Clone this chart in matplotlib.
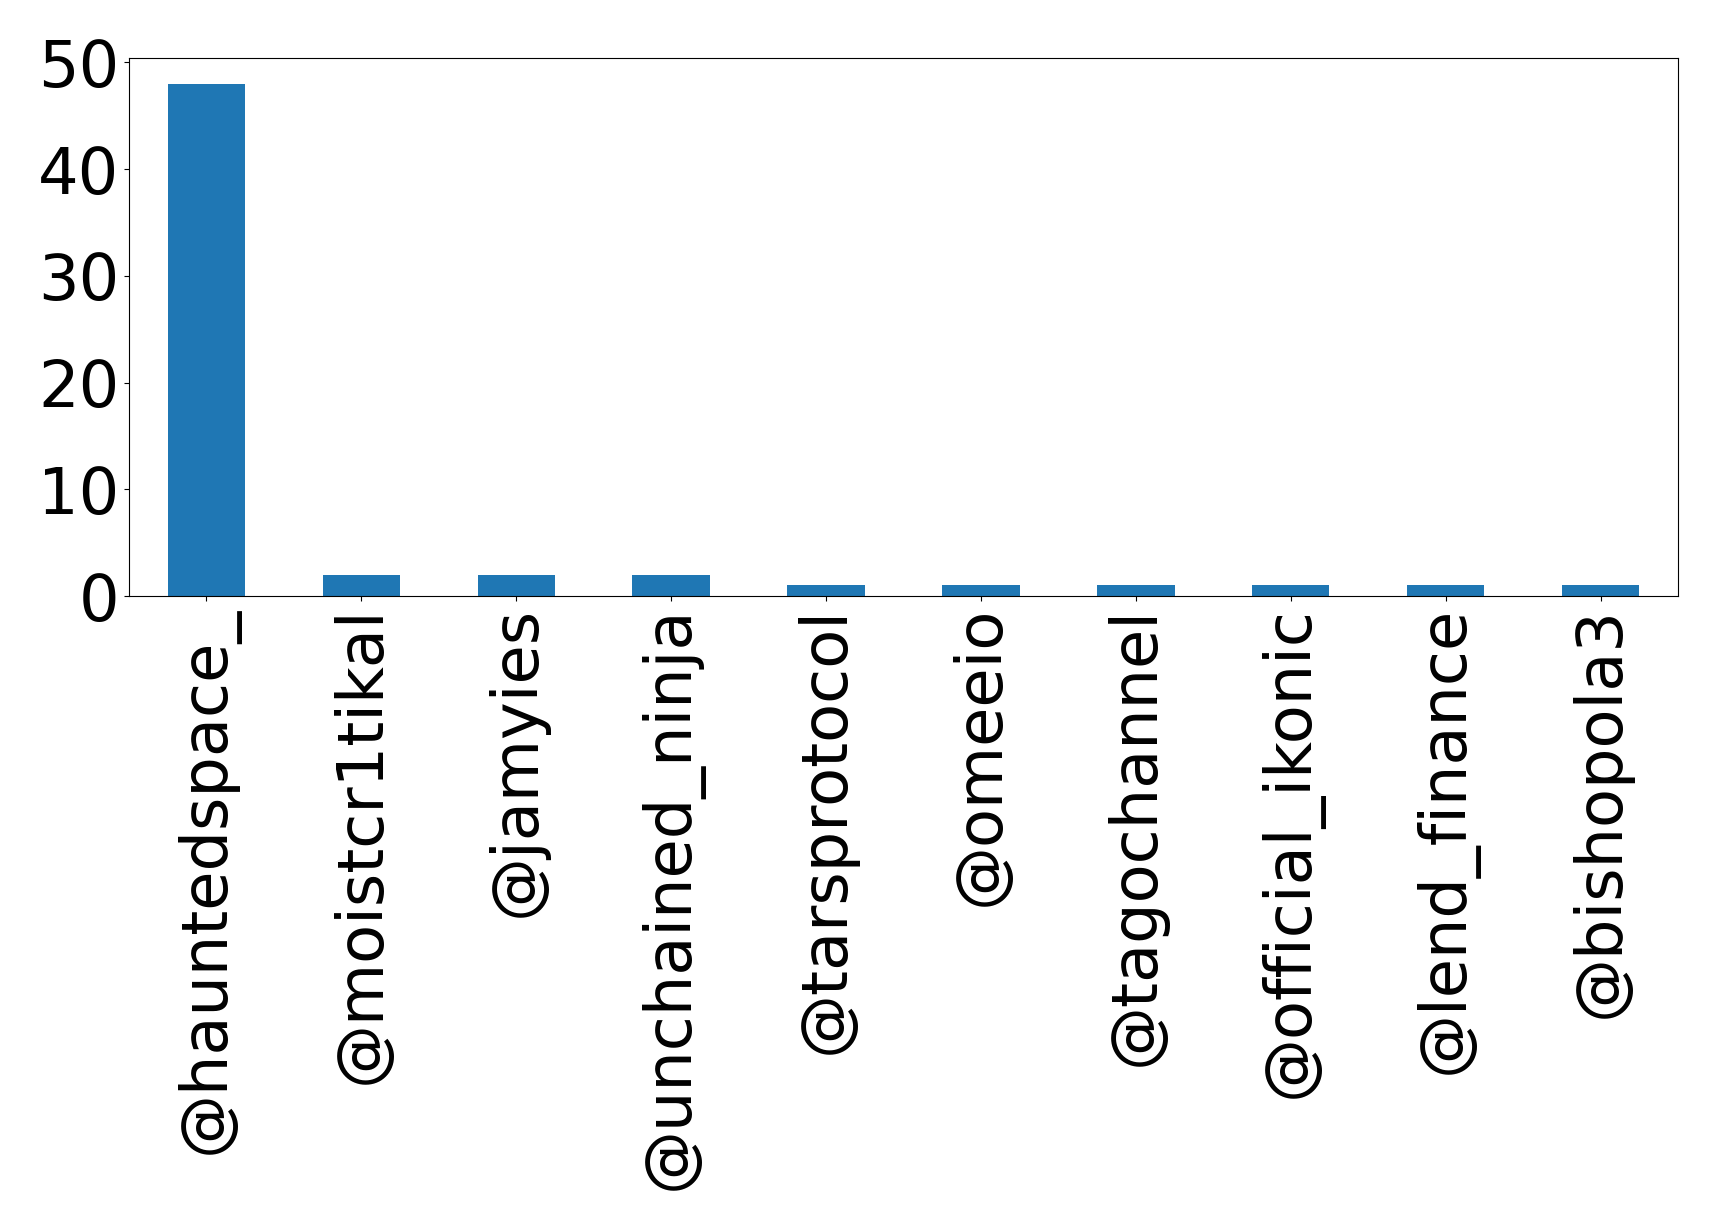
import numpy as np
import pandas as pd
import matplotlib
matplotlib.use('Agg')
import matplotlib.pyplot as plt

# Accounts and their counts
handles = ['@hauntedspace_', '@moistcr1tikal', '@jamyies', '@unchained_ninja',
           '@tarsprotocol', '@omeeio', '@tagochannel', '@official_ikonic',
           '@lend_finance', '@bishopola3']
counts = [48, 2, 2, 2, 1, 1, 1, 1, 1, 1]

series = pd.Series(counts, index=handles)

fig = plt.figure(figsize=(17.19, 12.19), dpi=100)
ax = fig.add_axes([129 / 1719, 1 - 596 / 1219, (1678 - 129) / 1719, (596 - 58) / 1219])
series.plot(kind='bar', ax=ax, color='#1f77b4', fontsize=46)
ax.set_yticks([0, 10, 20, 30, 40, 50])

fig.savefig('out.png', dpi=100)
